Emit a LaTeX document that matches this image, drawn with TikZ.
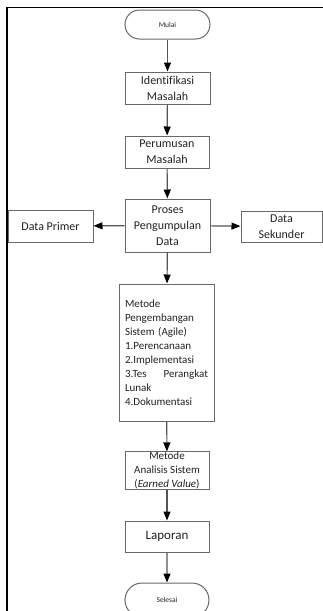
\documentclass[tikz,border=0pt]{standalone}
\usepackage{fontspec}
\setmainfont[Ligatures=NoCommon]{Carlito}
\usetikzlibrary{arrows.meta,shapes.misc}
\definecolor{boxgray}{HTML}{686868}
\definecolor{arrowgray}{HTML}{555555}
\definecolor{txt}{HTML}{222222}
\tikzset{
  x=1pt,y=1pt,
  procbox/.style={draw=boxgray,line width=1pt,rectangle,inner sep=0pt,align=center,text=txt,
    font=\fontsize{12}{16}\selectfont},
  termbox/.style={draw=boxgray,line width=1pt,rounded rectangle,inner sep=0pt,align=center,text=txt,
    font=\fontsize{7.5}{8}\selectfont},
  flow/.style={draw=arrowgray,line width=1.2pt,-{Triangle[length=9pt,width=7pt,color=black]}},
}
\begin{document}
\begin{tikzpicture}
\useasboundingbox (0,0) rectangle (323,-611);
\begin{scope}
\clip (0,0) rectangle (323,-611);
% outer frame
\draw[black,line width=1.6pt] (330,-7.5) -- (7,-7.5) -- (7,-620);
\node[termbox,minimum width=85pt,minimum height=29pt] (mulai) at (167.5,-24.5) {Mulai};
\node[procbox,minimum width=85pt,minimum height=32pt] (ident) at (167.5,-88) {Identifikasi\\Masalah};
\node[procbox,minimum width=84pt,minimum height=32pt] (perum) at (167,-152) {Perumusan\\Masalah};
\node[procbox,minimum width=85pt,minimum height=53pt] (proses) at (167.5,-225.5) {Proses\\Pengumpulan\\Data};
\node[procbox,minimum width=85pt,minimum height=32pt] (primer) at (50.5,-226) {Data Primer};
\node[procbox,minimum width=81pt,minimum height=31pt] (sekunder) at (281.5,-226.5) {Data\\Sekunder};
\node[procbox,minimum width=95pt,minimum height=137pt,text width=83pt,align=left,
  font=\fontsize{11}{14}\selectfont] (metode) at (166.5,-352.5)
  {Metode\\Pengembangan\\Sistem (Agile)\\1.Perencanaan\\2.Implementasi\\3.Tes\hfill Perangkat\\Lunak\\4.Dokumentasi};
\node[procbox,minimum width=84pt,minimum height=37pt,font=\fontsize{11}{14}\selectfont] (analisis) at (167,-470.5)
  {Metode\\Analisis Sistem\\(\textit{Earned Value})};
\node[procbox,minimum width=84pt,minimum height=31pt,font=\fontsize{13}{16}\selectfont] (laporan) at (167,-536.5) {Laporan};
\node[termbox,minimum width=84pt,minimum height=34pt] (selesai) at (167,-600) {Selesai};
\draw[flow] (mulai) -- (ident);
\draw[flow] (ident) -- (perum);
\draw[flow] (perum) -- (proses);
\draw[flow] (proses) -- (primer);
\draw[flow] (proses) -- (sekunder);
\draw[flow] (proses) -- (metode);
\draw[flow] (metode) -- (analisis);
\draw[flow] (analisis) -- (laporan);
\draw[flow] (laporan) -- (selesai);
\end{scope}
\end{tikzpicture}
\end{document}
